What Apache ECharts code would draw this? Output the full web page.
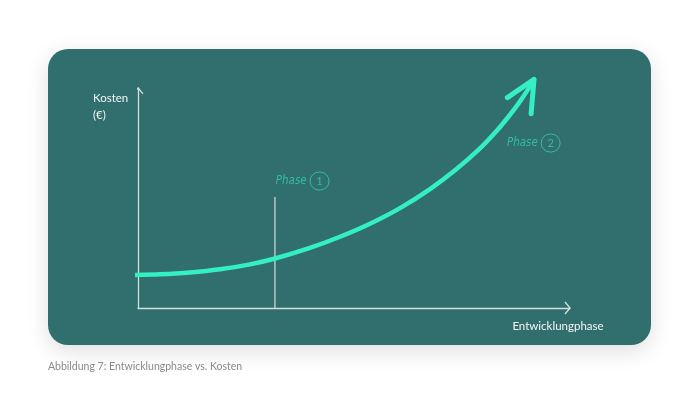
<!DOCTYPE html>
<html>
<head>
<meta charset="utf-8">
<style>html,body{margin:0;padding:0;background:#fff;}#c{width:700px;height:394px;}</style>
<script src="https://cdn.jsdelivr.net/npm/echarts@6/dist/echarts.min.js"></script>
</head>
<body>
<div id="c"></div>
<script>
// Curve (development phase vs cost), x: 0..100, y: 0..100
var curveX = [-1.39, 5.09, 12.04, 18.98, 25.93, 31.71, 39.81, 46.76, 53.70, 60.65, 67.59, 73.38, 79.17, 83.10, 86.11, 88.43, 90.74, 91.67];
var curveY = [15.00, 15.32, 16.14, 17.57, 19.82, 22.50, 27.34, 32.39, 38.32, 45.41, 54.07, 62.59, 72.55, 80.66, 87.84, 93.93, 100.75, 103.90];
// arrow head of curve: left arm, tip, right arm
var headX = [85.5, 91.67, 91.0];
var headY = [95.6, 103.9, 88.3];
// phase 1 marker line
var phase1X = [31.7, 31.7];
var phase1Y = [0, 50.5];
// phase labels anchors
var phaseNames = ['Phase 1', 'Phase 2'];
var phaseNums = ['1', '2'];
var phaseX = [31.9, 85.4];
var phaseY = [57.7, 75.0];
// axis arrow heads
var yArrowX = [-1.16, 0, 1.16];
var yArrowY = [97.3, 100, 97.3];
var xArrowX = [98.84, 100, 98.84];
var xArrowY = [2.73, 0, -2.73];
var xAxisName = 'Entwicklungphase';
var yAxisLines = ['Kosten', '(€)'];
var caption = 'Abbildung 7: Entwicklungphase vs. Kosten';

function zip(a, b) { return a.map(function (v, i) { return [v, b[i]]; }); }

var chart = echarts.init(document.getElementById('c'));
var axisColor = '#d3dfde';
var curveColor = '#34efc2';
var labelColor = '#35cfa9';
var font = 'Lato, "Open Sans", sans-serif';

chart.setOption({
  backgroundColor: '#ffffff',
  animation: false,
  title: {
    text: caption, left: 48, top: 361, padding: 0,
    textStyle: { fontFamily: font, fontSize: 10.5, fontWeight: 'normal', color: '#8a8a8a' }
  },
  graphic: [{
    type: 'rect', z: -10, silent: true,
    shape: { x: 48, y: 49, width: 603, height: 296, r: 20 },
    style: { fill: '#306f6d', shadowBlur: 22, shadowColor: 'rgba(0,0,0,0.13)', shadowOffsetY: 6 }
  }],
  grid: { left: 138, right: 130, top: 88, bottom: 86 },
  xAxis: {
    type: 'value', min: 0, max: 100,
    name: xAxisName, nameLocation: 'end', nameGap: -12,
    nameTextStyle: { color: '#f2f6f6', fontFamily: font, fontSize: 11.5, align: 'center', verticalAlign: 'top', padding: [12, 0, 0, 0] },
    axisLine: { show: true, lineStyle: { color: axisColor, width: 1.3 } },
    axisTick: { show: false }, axisLabel: { show: false }, splitLine: { show: false }
  },
  yAxis: {
    type: 'value', min: 0, max: 100,
    name: yAxisLines.map(function (s) { return '{a|' + s + '}'; }).join('\n'),
    nameLocation: 'end', nameGap: -19,
    nameTextStyle: { color: '#f2f6f6', fontFamily: font, fontSize: 11.5, align: 'right', verticalAlign: 'middle', padding: [0, 9, 0, 0],
      rich: { a: { color: '#f2f6f6', fontFamily: font, fontSize: 11.5, lineHeight: 17, width: 36, align: 'left' } } },
    axisLine: { show: true, lineStyle: { color: axisColor, width: 1.3 } },
    axisTick: { show: false }, axisLabel: { show: false }, splitLine: { show: false }
  },
  series: [
    { type: 'line', data: zip(yArrowX, yArrowY), symbol: 'none', clip: false, silent: true,
      lineStyle: { color: axisColor, width: 1.3 } },
    { type: 'line', data: zip(xArrowX, xArrowY), symbol: 'none', clip: false, silent: true,
      lineStyle: { color: axisColor, width: 1.3 } },
    { type: 'line', data: zip(phase1X, phase1Y), symbol: 'none', clip: false, silent: true,
      lineStyle: { color: axisColor, width: 1.2 } },
    { type: 'line', data: zip(curveX, curveY), symbol: 'none', clip: false, smooth: 0.3, silent: true,
      lineStyle: { color: curveColor, width: 4.5, cap: 'round', join: 'round' } },
    { type: 'line', data: zip(headX, headY), symbol: 'none', clip: false, silent: true,
      lineStyle: { color: curveColor, width: 5, cap: 'round', join: 'round' } },
    { type: 'scatter', symbolSize: 0, clip: false, silent: true,
      data: phaseX.map(function (x, i) { return { name: phaseNames[i], value: [x, phaseY[i]] }; }),
      label: {
        show: true, position: 'right', distance: 0,
        formatter: function (p) { return '{a|Phase} {c|' + phaseNums[p.dataIndex] + '}'; },
        rich: {
          a: { color: labelColor, fontFamily: '"DejaVu Sans Condensed", ' + font, fontStyle: 'italic', fontSize: 11.5 },
          c: { color: labelColor, fontFamily: font, fontSize: 11, width: 17, height: 17, align: 'center',
               borderColor: labelColor, borderWidth: 1, borderRadius: 10, padding: [1, 1, 0, 1] }
        }
      } }
  ]
});
</script>
</body>
</html>
